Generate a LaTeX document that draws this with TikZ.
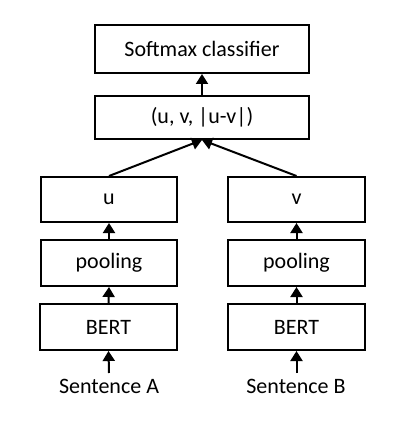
\documentclass[tikz,border=0pt]{standalone}
\usepackage{fontspec}
\setmainfont{Carlito}
\usetikzlibrary{arrows.meta}
\begin{document}
\begin{tikzpicture}[x=1pt,y=-1pt,
  box/.style={draw=black, line width=2pt, rectangle, inner sep=0pt, align=center,
    font=\fontsize{22}{24}\selectfont},
  lbl/.style={inner sep=0pt, font=\fontsize{22}{24}\selectfont},
  arr/.style={line width=2pt, -{Triangle[width=12pt,length=10pt]}},
  conn/.style={line width=2pt}]
\useasboundingbox (0,0) rectangle (408,422);
\node[box, minimum width=214pt, minimum height=48pt] (soft) at (202,49) {Softmax classifier};
\node[box, minimum width=214pt, minimum height=43pt] (cat) at (202,117.5) {(u, v, |u-v|)};
\node[box, minimum width=136pt, minimum height=45pt] (u) at (109,199.5) {u};
\node[box, minimum width=137pt, minimum height=45pt] (v) at (296.5,199.5) {v};
\node[box, minimum width=136pt, minimum height=46pt] (pa) at (109,263) {pooling};
\node[box, minimum width=137pt, minimum height=46pt] (pb) at (296.5,263) {pooling};
\node[box, minimum width=137pt, minimum height=46pt] (ba) at (108.5,327) {BERT};
\node[box, minimum width=137pt, minimum height=46pt] (bb) at (296.5,327) {BERT};
\node[lbl] (sa) at (109,386) {Sentence A};
\node[lbl] (sb) at (296,386) {Sentence B};
\coordinate (sat) at (109,373);
\coordinate (sbt) at (296.5,373);
\draw[arr] (cat.north) -- (soft.south);
\draw[arr] (u.north) -- (cat.south);
\draw[arr] (v.north) -- (cat.south);
\draw[arr] (pa.north) -- (u.south);
\draw[arr] (pb.north) -- (v.south);
\draw[arr] (ba.north) -- (pa.south);
\draw[arr] (bb.north) -- (pb.south);
\draw[arr] (sat) -- (ba.south);
\draw[arr] (sbt) -- (bb.south);
\end{tikzpicture}
\end{document}
